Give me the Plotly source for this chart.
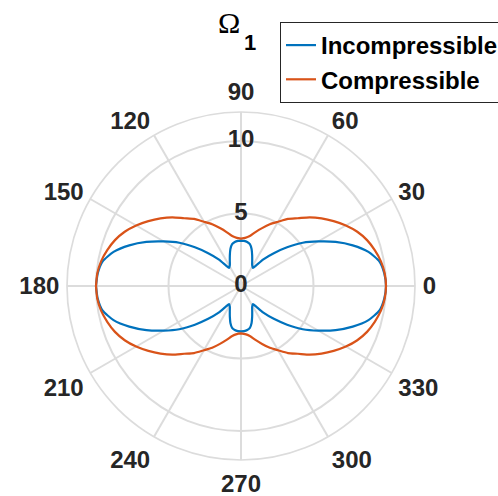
import plotly.graph_objects as go

# Polar pattern, first quadrant (degrees); the pattern is symmetric about both axes
angles_incomp = [0, 5, 10, 15, 20, 25, 30, 35, 40, 45, 50, 54, 56.5,
                 62, 66, 70, 74, 78, 82, 86, 90]
omega_incomp = [10.0, 9.92, 9.7, 9.1, 8.2, 7.2, 6.15, 5.2, 4.15, 3.2, 2.4, 1.72, 1.5,
                1.64, 1.9, 2.25, 2.65, 2.95, 3.07, 3.12, 3.13]

angles_comp = [0, 5, 10, 15, 20, 25, 30, 35, 40, 45, 50, 55, 60, 65, 70, 75, 80, 85, 90]
omega_comp = [10.0, 9.95, 9.8, 9.55, 9.25, 8.85, 8.35, 7.8, 7.25, 6.7, 6.1, 5.65, 5.12,
              4.7, 4.25, 3.85, 3.5, 3.33, 3.27]

angle_ticks = list(range(0, 360, 30))
angle_labels = [str(a) for a in angle_ticks]
radial_ticks = [0, 5, 10]
radial_labels = ["0", "5", "10"]
radial_max = 12

series_names = ["Incompressible", "Compressible"]
series_colors = ["#0072BD", "#D95319"]


def full_turn(ang, val):
    """Extend first-quadrant samples to the full circle by reflection."""
    th, r = [], []
    th += list(ang); r += list(val)
    th += [180 - a for a in reversed(ang)]; r += list(reversed(val))
    th += [180 + a for a in ang]; r += list(val)
    th += [360 - a for a in reversed(ang)]; r += list(reversed(val))
    return th, r


FONT = "Liberation Sans, Arial, Helvetica, sans-serif"
TXT = "#262626"
GRID = "#dcdcdc"

fig = go.Figure()
for (ang, val), name, color in zip(
        [(angles_incomp, omega_incomp), (angles_comp, omega_comp)],
        series_names, series_colors):
    th, r = full_turn(ang, val)
    fig.add_trace(go.Scatterpolar(
        r=r, theta=th, mode="lines", name=name,
        line=dict(color=color, width=2.2, shape="spline", smoothing=0.6),
    ))

# radial tick labels stacked along the 90 degree spoke
fig.add_trace(go.Scatterpolar(
    r=radial_ticks, theta=[90] * len(radial_ticks), mode="text",
    text=radial_labels, textposition="middle center",
    textfont=dict(family=FONT, size=24, color=TXT, weight="bold"),
    showlegend=False, hoverinfo="skip",
))

W, H = 498, 496
ml, mr, mt, mb = 67, 83, 112, 36
pw, ph = W - ml - mr, H - mt - mb


def px_to_paper(x, y):
    return (x - ml) / pw, (H - mb - y) / ph


fig.update_layout(
    width=W, height=H,
    margin=dict(l=ml, r=mr, t=mt, b=mb, pad=0, autoexpand=False),
    paper_bgcolor="white",
    font=dict(family=FONT, color=TXT),
    polar=dict(
        domain=dict(x=[0, 1], y=[0, 1]),
        bgcolor="white",
        radialaxis=dict(
            range=[0, radial_max], tickmode="array", tickvals=radial_ticks[1:],
            showticklabels=False, ticks="", showline=False,
            gridcolor=GRID, gridwidth=1.7,
        ),
        angularaxis=dict(
            tickmode="array", tickvals=angle_ticks, ticktext=angle_labels,
            ticks="outside", ticklen=2, tickcolor="rgba(0,0,0,0)",
            showline=True, linecolor=GRID, linewidth=1.7,
            gridcolor=GRID, gridwidth=1.7,
            tickfont=dict(family=FONT, size=24, color=TXT, weight="bold"),
            rotation=0, direction="counterclockwise",
        ),
    ),
    legend=dict(
        xref="container", yref="container",
        x=280 / W, y=1 - 22 / H, xanchor="left", yanchor="top",
        bgcolor="white", bordercolor=TXT, borderwidth=1,
        font=dict(family=FONT, size=24, color="black", weight="bold"),
        itemwidth=30, tracegroupgap=0,
    ),
    showlegend=True,
)

ox, oy = px_to_paper(229, 23)
sx, sy = px_to_paper(250, 42)
fig.add_annotation(text="Ω", x=ox, y=oy, xref="paper", yref="paper",
                   showarrow=False, xanchor="center", yanchor="middle",
                   font=dict(family="Liberation Serif, Times New Roman, serif",
                             size=30, color="black"))
fig.add_annotation(text="1", x=sx, y=sy, xref="paper", yref="paper",
                   showarrow=False, xanchor="center", yanchor="middle",
                   font=dict(family=FONT, size=22, color="black", weight="bold"))

fig.write_html("out.html")
